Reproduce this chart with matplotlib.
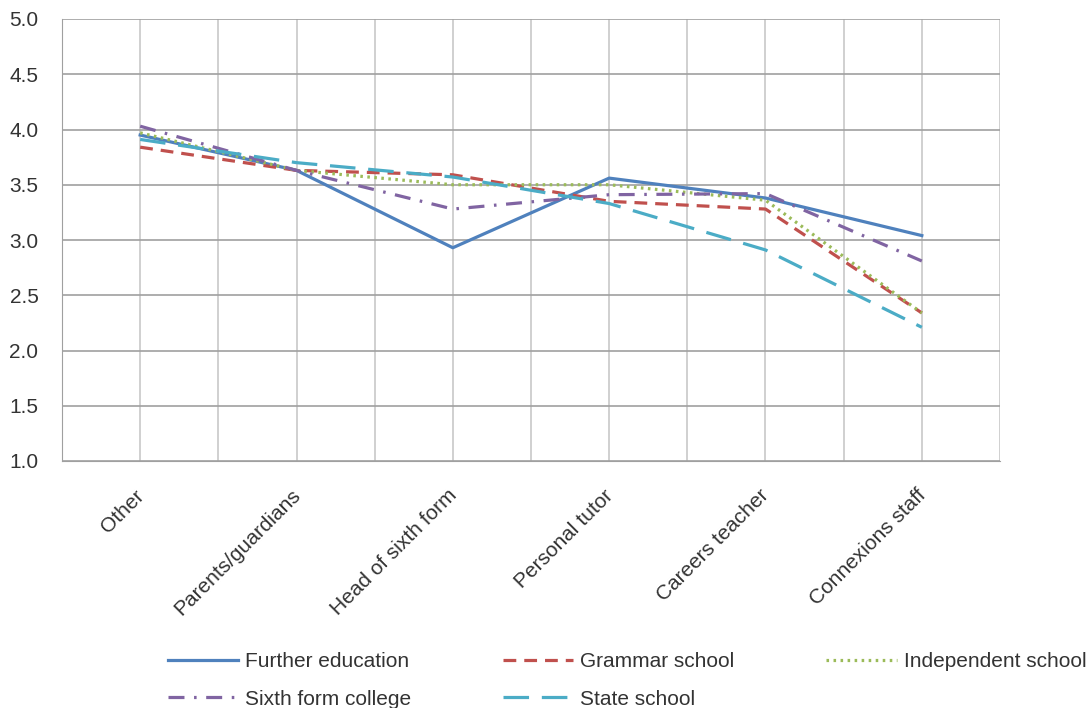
import matplotlib
matplotlib.use('Agg')
import matplotlib.pyplot as plt
from matplotlib.transforms import ScaledTranslation

categories = ['Other', 'Parents/guardians', 'Head of sixth form',
              'Personal tutor', 'Careers teacher', 'Connexions staff']
further_education = [3.95, 3.63, 2.93, 3.56, 3.38, 3.04]
grammar_school = [3.84, 3.63, 3.59, 3.35, 3.28, 2.34]
independent_school = [3.97, 3.63, 3.50, 3.50, 3.36, 2.34]
sixth_form_college = [4.03, 3.63, 3.28, 3.41, 3.42, 2.81]
state_school = [3.91, 3.70, 3.57, 3.33, 2.91, 2.21]
y_ticks = [1.0, 1.5, 2.0, 2.5, 3.0, 3.5, 4.0, 4.5, 5.0]

plt.rcParams['font.family'] = ['Liberation Sans', 'DejaVu Sans']
txt_col = '#333333'
fs = 15

fig = plt.figure(figsize=(10.92, 7.08), dpi=100)
ax = fig.add_axes([62 / 1092, 1 - 461 / 708, 938 / 1092, 442 / 708])

x = list(range(len(categories)))
lw = 2.3
l_fe, = ax.plot(x, further_education, color='#4F81BD', lw=lw, label='Further education')
l_gs, = ax.plot(x, grammar_school, color='#C0504D', lw=lw, dashes=(4, 2.5), label='Grammar school')
l_is, = ax.plot(x, independent_school, color='#9BBB59', lw=lw, dashes=(0.8, 1.4), label='Independent school')
l_sf, = ax.plot(x, sixth_form_college, color='#8064A2', lw=lw, dashes=(5, 3, 0.8, 3), label='Sixth form college')
l_ss, = ax.plot(x, state_school, color='#4BACC6', lw=lw, dashes=(8, 4), label='State school')

ax.set_xlim(-0.5, len(categories) - 0.5)
ax.set_ylim(1.0, 5.0)
ax.set_yticks(y_ticks)
ax.set_yticklabels(['%.1f' % v for v in y_ticks], fontsize=fs, color=txt_col)
ax.set_xticks(x)
ax.set_xticklabels([])
ax.set_xticks([v + 0.5 for v in [-1] + x], minor=True)

# rotated category labels, drawn just below the axis
lbl_tr = ax.get_xaxis_transform() + ScaledTranslation(-0.06, -0.25, fig.dpi_scale_trans)
for i, cat in enumerate(categories):
    ax.text(i, 0, cat, transform=lbl_tr, rotation=45, ha='right', va='top',
            rotation_mode='anchor', fontsize=fs, color=txt_col)

ax.grid(True, which='both', axis='x', color='#C8C8C8', lw=1.2)
ax.grid(True, which='major', axis='y', color='#A0A0A0', lw=1.2)
ax.set_axisbelow(True)
ax.tick_params(axis='both', which='both', length=0)
ax.tick_params(axis='y', pad=17)
for s in ['top', 'right']:
    ax.spines[s].set_visible(False)
ax.spines['left'].set_color('#A0A0A0')
ax.spines['bottom'].set_color('#A0A0A0')

handles = [l_fe, l_sf, l_gs, l_ss, l_is]
leg = fig.legend(handles, [h.get_label() for h in handles], ncol=3, frameon=False,
                 loc='upper left', bbox_to_anchor=(168 / 1092, 1 - 652 / 708),
                 borderaxespad=0, borderpad=0,
                 fontsize=fs, handlelength=3.37, columnspacing=4.4, labelspacing=0.9,
                 handletextpad=0.34)
for t in leg.get_texts():
    t.set_color(txt_col)

fig.savefig('out.png', dpi=100)
